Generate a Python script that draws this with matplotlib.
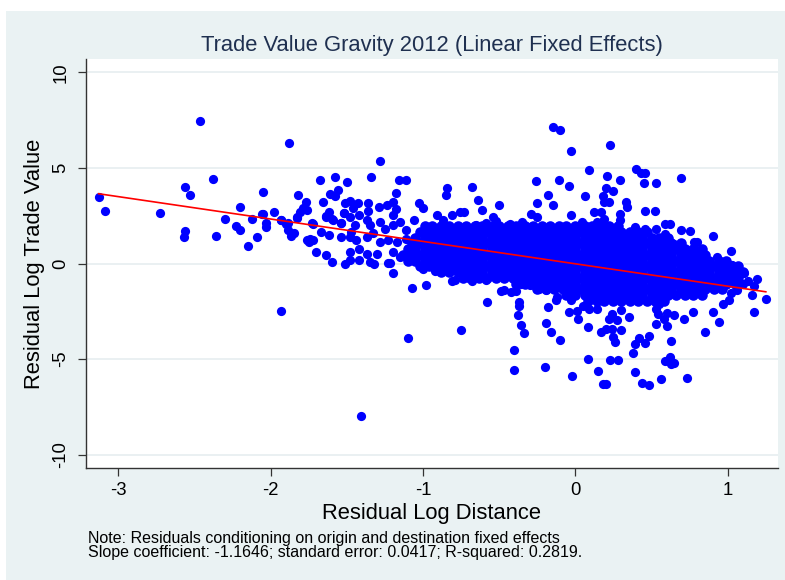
import numpy as np
import matplotlib
matplotlib.use('Agg')
import matplotlib.pyplot as plt
from matplotlib.patches import Rectangle

plt.rcParams['font.family'] = ['Liberation Sans', 'DejaVu Sans']
plt.rcParams['axes.unicode_minus'] = False

# Scattered points (residual log distance, residual log trade value)
left_pts = [
    (-3.13, 3.50), (-3.09, 2.75), (-2.73, 2.65), (-2.56, 3.98), (-2.53, 3.58), (-2.465, 7.47),
    (-2.38, 4.40), (-2.57, 1.40), (-2.56, 1.70), (-2.36, 1.42), (-2.30, 2.35), (-2.20, 2.95),
    (-2.23, 1.96), (-2.20, 1.77), (-2.15, 0.90), (-2.12, 2.32), (-2.09, 1.38), (-2.05, 3.75),
    (-2.05, 2.61), (-2.03, 2.12), (-2.03, 1.91), (-1.98, 2.67), (-1.93, 2.30), (-1.90, 2.07),
    (-1.88, 6.30), (-1.89, 1.75), (-1.87, 1.42), (-1.85, 1.62), (-1.83, 2.40), (-1.82, 3.60),
    (-1.81, 2.70), (-1.79, 2.88), (-1.77, 3.23), (-1.76, 2.81), (-1.72, 2.09), (-1.76, 1.21),
    (-1.74, 1.30), (-1.72, 1.25), (-1.75, 1.10), (-1.70, 0.59), (-1.68, 4.37), (-1.67, 1.63),
    (-1.62, 1.47), (-1.66, 3.23), (-1.64, 2.47), (-1.62, 2.67), (-1.64, 0.44), (-1.60, 0.07),
    (-1.60, 2.33), (-1.61, 3.64), (-1.58, 4.51), (-1.58, 3.54), (-1.56, 3.85), (-1.54, 2.12),
    (-1.54, 1.38), (-1.52, 2.62), (-1.51, -0.05), (-1.48, 0.17), (-1.50, 4.28), (-1.51, 3.19),
    (-1.48, 3.27), (-1.43, 3.14), (-1.46, 2.88), (-1.48, 2.45), (-1.42, 2.54), (-1.37, 2.28),
    (-1.45, 2.00), (-1.47, 1.65), (-1.48, 1.40), (-1.44, 1.22), (-1.48, 0.60), (-1.42, 0.77),
    (-1.37, 0.51), (-1.30, 0.51), (-1.42, 0.17), (-1.35, 0.08), (-1.32, 0.00), (-1.37, 1.40),
    (-1.33, 1.57), (-1.35, 2.00), (-1.28, 2.17), (-1.25, 1.83), (-1.36, 3.19), (-1.36, 2.74),
    (-1.34, 4.51), (-1.28, 5.38), (-1.29, 2.98), (-1.24, 3.07), (-1.20, 3.24), (-1.18, 2.85),
    (-1.20, 2.54), (-1.16, 4.35), (-1.11, 4.35), (-1.18, 3.67), (-1.20, 2.00), (-1.15, 2.17),
    (-1.11, 1.75), (-1.06, 2.28), (-1.28, 1.14), (-1.23, 1.22), (-1.17, 1.14), (-1.11, 1.30),
    (-1.23, 0.05), (-1.20, 0.60), (-1.15, 0.33), (-1.22, 0.02), (-1.20, -0.49), (-1.07, -1.30),
    (-0.98, -1.12), (-1.00, -0.28), (-1.93, -2.46), (-1.10, -3.91), (-1.41, -7.96), (-1.03, 3.14),
    (-1.00, 2.88), (-1.73, 2.10), (-1.83, 2.44), (-1.89, 2.14), (-1.93, 2.28), (-2.06, 2.60),
    (-1.64, 2.44), (-1.59, 2.28), (-1.52, 2.63), (-1.54, 2.14),
]

upper_pts = [
    (-0.15, 7.14), (-0.10, 6.96), (-0.03, 5.89), (0.09, 4.91), (0.23, 6.22), (-0.84, 3.96),
    (-0.85, 3.58), (-0.68, 4.00), (-0.26, 4.32), (-0.11, 4.35), (-0.04, 4.05), (-0.18, 3.56),
    (-0.15, 3.05), (-0.25, 3.17), (0.06, 3.51), (-0.64, 3.33), (-0.61, 2.80), (-0.50, 3.05),
    (-0.03, 2.54), (0.12, 2.70), (-0.29, 2.57), (-0.25, 2.45), (-0.76, 2.70), (-0.73, 2.68),
    (-0.81, 2.54), (-0.91, 2.54), (-0.87, 2.28), (-0.54, 2.45), (-0.52, 2.22), (-0.59, 2.14),
    (-0.65, 2.00), (-0.43, 2.07), (-0.40, 1.96), (-0.35, 2.17), (-0.34, 2.00), (-0.30, 1.91),
    (-0.16, 1.91), (-0.13, 1.80), (-0.08, 1.80), (0.04, 2.17), (0.01, 1.91), (0.10, 1.91),
    (0.14, 2.17), (0.19, 2.35),
    (0.40, 4.95), (0.43, 4.72), (0.46, 4.72), (0.69, 4.45), (0.45, 4.23), (0.53, 4.19),
    (0.21, 4.59), (0.29, 4.35), (0.20, 3.93), (0.25, 3.80), (0.22, 3.20), (0.33, 3.24),
    (0.34, 2.98), (0.46, 2.77), (0.52, 2.77), (0.29, 2.61), (0.29, 2.28), (0.59, 2.09),
    (0.62, 2.09), (0.69, 1.75), (0.75, 1.70), (0.90, 1.44), (0.78, 1.14), (0.80, 1.10),
    (1.02, 0.63), (0.65, 1.00), (0.39, 1.91), (0.46, 1.83), (0.53, 1.80), (0.59, 1.54),
    (0.55, 1.30), (0.93, 0.33), (0.86, 0.22), (1.02, -0.07), (0.18, 3.54), (0.19, 3.24),
    (0.17, 2.70),
]

right_pts = [
    (1.03, -0.10), (1.11, -0.51), (1.19, -0.80), (1.13, -0.92), (1.17, -1.20), (1.16, -1.65),
    (1.25, -1.86), (1.17, -2.55), (1.10, -1.07), (1.06, -1.40), (1.02, -1.55), (1.01, -1.93),
    (0.97, -2.11), (0.90, -2.55), (0.94, -3.07), (0.85, -3.60),
]

lower_pts = [
    (0.77, -2.55), (0.71, -2.90), (0.65, -2.67), (0.60, -2.58), (0.60, -3.25), (0.53, -3.19),
    (0.63, -4.04), (0.48, -3.77), (0.42, -3.90), (0.46, -4.18), (0.39, -4.21), (0.38, -4.70),
    (0.59, -5.09), (0.62, -4.88), (0.65, -5.18), (0.63, -5.27), (0.23, -5.07), (0.28, -5.07),
    (0.39, -5.70), (0.44, -6.23), (0.48, -6.37), (0.56, -6.05), (0.73, -6.00), (0.20, -6.28),
    (0.24, -2.63), (0.30, -2.42), (0.35, -2.81), (0.22, -2.90), (0.27, -2.98), (0.24, -3.42),
    (0.30, -3.47), (0.25, -3.86), (0.26, -4.12), (0.54, -2.63), (0.58, -2.90), (0.53, -2.37),
    (0.55, -2.11),
    (-0.92, -0.40), (-0.81, -0.89), (-0.79, -0.86), (-0.68, -0.92), (-0.59, -0.86),
    (-0.53, -0.68), (-0.49, -0.54), (-0.58, -2.04), (-0.75, -3.49), (-0.49, -1.46),
    (-0.47, -1.38), (-0.42, -1.51), (-0.39, -1.46), (-0.37, -2.04), (-0.37, -2.20),
    (-0.38, -2.72), (-0.36, -3.20), (-0.34, -3.62), (-0.40, -4.54), (-0.40, -5.56),
    (-0.36, -1.07), (-0.30, -1.14), (-0.24, -1.33), (-0.19, -1.40), (-0.12, -1.77),
    (-0.13, -1.93), (-0.18, -2.28), (-0.19, -3.12), (-0.16, -3.58), (-0.10, -3.99),
    (-0.20, -5.42), (-0.02, -5.88), (-0.03, -1.93), (-0.04, -2.55), (0.01, -2.46),
    (0.02, -2.90), (0.05, -2.20), (0.09, -2.37), (0.14, -2.37), (0.08, -3.34),
    (0.17, -3.60), (0.20, -3.42), (0.08, -5.00), (0.15, -5.62), (0.18, -6.28),
]

# Dense core of the cloud, estimated row by row (y level -> x positions of dots)
core_y = [1.95, 1.65, 1.35, 1.05, 0.75, 0.45, 0.15, -0.15, -0.45, -0.75, -1.05, -1.35, -1.65, -1.95]
core_x = [
    [-0.99, -0.94, -0.88, -0.83, -0.77, -0.72, -0.66, -0.61, -0.55, -0.50, -0.44, -0.39, -0.33,
     -0.28, -0.22, -0.17, -0.11, -0.06, 0.00, 0.06, 0.11, 0.17, 0.22, 0.28],
    [-1.02, -0.96, -0.91, -0.85, -0.80, -0.74, -0.69, -0.63, -0.58, -0.52, -0.47, -0.41, -0.36,
     -0.30, -0.25, -0.19, -0.14, -0.08, -0.03, 0.03, 0.08, 0.14, 0.19, 0.25, 0.30, 0.36, 0.41, 0.47],
    [-1.05, -0.99, -0.94, -0.88, -0.83, -0.77, -0.72, -0.66, -0.61, -0.55, -0.50, -0.44, -0.39,
     -0.33, -0.28, -0.22, -0.17, -0.11, -0.06, 0.00, 0.06, 0.11, 0.17, 0.22, 0.28, 0.33, 0.39,
     0.44, 0.50, 0.55, 0.61],
    [-1.07, -1.02, -0.96, -0.91, -0.85, -0.80, -0.74, -0.69, -0.63, -0.58, -0.52, -0.47, -0.41,
     -0.36, -0.30, -0.25, -0.19, -0.14, -0.08, -0.03, 0.03, 0.08, 0.14, 0.19, 0.25, 0.30, 0.36,
     0.41, 0.47, 0.52, 0.58, 0.63, 0.69],
    [-1.10, -1.05, -0.99, -0.94, -0.88, -0.83, -0.77, -0.72, -0.66, -0.61, -0.55, -0.50, -0.44,
     -0.39, -0.33, -0.28, -0.22, -0.17, -0.11, -0.06, 0.00, 0.06, 0.11, 0.17, 0.22, 0.28, 0.33,
     0.39, 0.44, 0.50, 0.55, 0.61, 0.66, 0.72, 0.77, 0.83],
    [-1.13, -1.07, -1.02, -0.96, -0.91, -0.85, -0.80, -0.74, -0.69, -0.63, -0.58, -0.52, -0.47,
     -0.41, -0.36, -0.30, -0.25, -0.19, -0.14, -0.08, -0.03, 0.03, 0.08, 0.14, 0.19, 0.25, 0.30,
     0.36, 0.41, 0.47, 0.52, 0.58, 0.63, 0.69, 0.74, 0.80, 0.85],
    [-1.10, -1.05, -0.99, -0.94, -0.88, -0.83, -0.77, -0.72, -0.66, -0.61, -0.55, -0.50, -0.44,
     -0.39, -0.33, -0.28, -0.22, -0.17, -0.11, -0.06, 0.00, 0.06, 0.11, 0.17, 0.22, 0.28, 0.33,
     0.39, 0.44, 0.50, 0.55, 0.61, 0.66, 0.72, 0.77, 0.83, 0.88, 0.94, 0.99],
    [-1.02, -0.96, -0.91, -0.85, -0.80, -0.74, -0.69, -0.63, -0.58, -0.52, -0.47, -0.41, -0.36,
     -0.30, -0.25, -0.19, -0.14, -0.08, -0.03, 0.03, 0.08, 0.14, 0.19, 0.25, 0.30, 0.36, 0.41,
     0.47, 0.52, 0.58, 0.63, 0.69, 0.74, 0.80, 0.85, 0.91, 0.96, 1.02, 1.07],
    [-0.88, -0.83, -0.77, -0.72, -0.66, -0.61, -0.55, -0.50, -0.44, -0.39, -0.33, -0.28, -0.22,
     -0.17, -0.11, -0.06, 0.00, 0.06, 0.11, 0.17, 0.22, 0.28, 0.33, 0.39, 0.44, 0.50, 0.55, 0.61,
     0.66, 0.72, 0.77, 0.83, 0.88, 0.94, 0.99, 1.05, 1.10],
    [-0.74, -0.69, -0.63, -0.58, -0.52, -0.47, -0.41, -0.36, -0.30, -0.25, -0.19, -0.14, -0.08,
     -0.03, 0.03, 0.08, 0.14, 0.19, 0.25, 0.30, 0.36, 0.41, 0.47, 0.52, 0.58, 0.63, 0.69, 0.74,
     0.80, 0.85, 0.91, 0.96, 1.02, 1.07],
    [-0.39, -0.33, -0.28, -0.22, -0.17, -0.11, -0.06, 0.00, 0.06, 0.11, 0.17, 0.22, 0.28, 0.33,
     0.39, 0.44, 0.50, 0.55, 0.61, 0.66, 0.72, 0.77, 0.83, 0.88, 0.94, 0.99, 1.05],
    [-0.25, -0.19, -0.14, -0.08, -0.03, 0.03, 0.08, 0.14, 0.19, 0.25, 0.30, 0.36, 0.41, 0.47,
     0.52, 0.58, 0.63, 0.69, 0.74, 0.80, 0.85, 0.91, 0.96],
    [-0.06, 0.00, 0.06, 0.11, 0.17, 0.22, 0.28, 0.33, 0.39, 0.44, 0.50, 0.55, 0.61, 0.66, 0.72,
     0.77, 0.83],
    [0.08, 0.14, 0.19, 0.25, 0.30, 0.36, 0.41, 0.47, 0.52, 0.58],
]

# Fitted line end points
line_x = [-3.13, 1.25]
line_y = [3.65, -1.48]

x_ticks = [-3, -2, -1, 0, 1]
y_ticks = [-10, -5, 0, 5, 10]

title = 'Trade Value Gravity 2012 (Linear Fixed Effects)'
note1 = 'Note: Residuals conditioning on origin and destination fixed effects'
note2 = 'Slope coefficient: -1.1646; standard error: 0.0417; R-squared: 0.2819.'

# collect points
pts = left_pts + upper_pts + right_pts + lower_pts
xs = [p[0] for p in pts]
ys = [p[1] for p in pts]
cx, cy = [], []
for yv, row in zip(core_y, core_x):
    cx += row
    cy += [yv] * len(row)

fig = plt.figure(figsize=(7.85, 5.8), dpi=100)
fig.patch.set_facecolor('white')
fig.add_artist(Rectangle((6 / 785, 0), 1, 1 - 11 / 580, transform=fig.transFigure,
                         facecolor='#EAF2F3', edgecolor='none', zorder=0))

ax = fig.add_axes([86 / 785, 1 - 468 / 580, (778 - 86) / 785, (468 - 59) / 580])
ax.set_facecolor('white')

for yt in y_ticks:
    ax.axhline(yt, color='#E6EEF0', lw=1.2, zorder=1)

# the core dots overlap heavily, a slightly bigger marker closes the gaps between rows
ax.scatter(cx, cy, s=58, color='#0000FF', linewidths=0, zorder=2)
ax.scatter(xs, ys, s=44, color='#0000FF', linewidths=0, zorder=2)
ax.plot(line_x, line_y, color='#FF0000', lw=1.2, zorder=3)

ax.set_xlim(-3.213, 1.33)
ax.set_ylim(-10.7, 10.7)
ax.set_xticks(x_ticks)
ax.set_yticks(y_ticks)

for s in ['top', 'right']:
    ax.spines[s].set_visible(False)
for s in ['left', 'bottom']:
    ax.spines[s].set_color('#333333')
    ax.spines[s].set_linewidth(1.0)

ax.tick_params(axis='both', direction='out', length=6, width=0.9, color='#333333',
               labelsize=13.3, labelcolor='black')
ax.tick_params(axis='x', pad=4)
ax.tick_params(axis='y', pad=6)
for lab in ax.get_yticklabels():
    lab.set_rotation(90)
    lab.set_va('center')

ax.set_xlabel('Residual Log Distance', fontsize=15.8, labelpad=3)
ax.set_ylabel('Residual Log Trade Value', fontsize=15.8, labelpad=5)
ax.set_title(title, fontsize=15.8, color='#1F3050', pad=6)

fig.text(88 / 785, 1 - 538 / 580, note1, fontsize=11.5, va='center', ha='left')
fig.text(88 / 785, 1 - 553 / 580, note2, fontsize=11.5, va='center', ha='left')

fig.savefig('out.png', dpi=100)
